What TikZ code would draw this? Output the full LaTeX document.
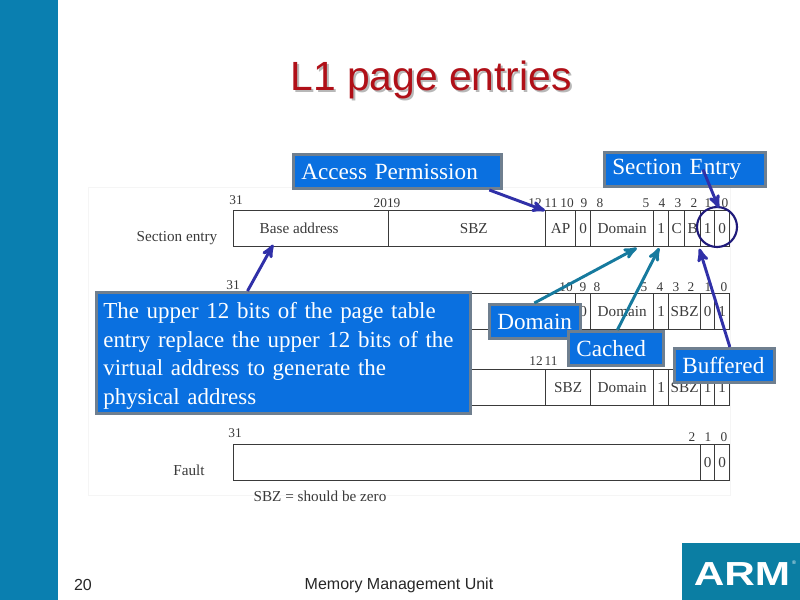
\documentclass[tikz,border=0pt]{standalone}
\usepackage{fontspec}
\setmainfont{Liberation Serif}
\newfontfamily\sansfont{Liberation Sans}
\usetikzlibrary{arrows}

\definecolor{armblue}{HTML}{0A7FB0}
\definecolor{armteal}{HTML}{0B7EA3}
\definecolor{tagblue}{HTML}{0A70E0}
\definecolor{tagedge}{HTML}{6F7F8F}
\definecolor{titlered}{HTML}{B01018}
\definecolor{cellink}{HTML}{3A3A3A}
\definecolor{indigo}{HTML}{3030A8}
\definecolor{ringblue}{HTML}{1F1A7A}
\definecolor{tealline}{HTML}{167A9E}

\begin{document}
\begin{tikzpicture}[x=0.75pt,y=-0.75pt,>=stealth']
  \tikzstyle{cell}=[draw=cellink,line width=1pt,anchor=north west,inner sep=0pt,minimum height=27pt,text=cellink,font=\fontsize{11.4}{11.4}\selectfont]
  \tikzstyle{bitnum}=[inner sep=0pt,text=cellink,font=\fontsize{10}{10}\selectfont]
  \tikzstyle{rowname}=[inner sep=0pt,text=cellink,font=\fontsize{11.4}{12}\selectfont]
  \tikzstyle{tagbox}=[fill=tagblue,draw=tagedge,line width=2pt,anchor=north west,inner xsep=6pt,inner ysep=0pt,align=left,text=white,font=\fontsize{17.4}{21.5}\selectfont]
  \tikzstyle{pointer}=[->,line width=2.2pt]
  \tikzstyle{footer}=[inner sep=0pt,text=black!85,font=\sansfont\fontsize{12}{12}\selectfont]

  \useasboundingbox (0,0) rectangle (800,600);
  \node[fill=armblue,anchor=north west,inner sep=0pt,minimum width=43.5pt,minimum height=450pt] (sidebar) at (0,0) {};
  \node[draw=black!4,line width=1pt,anchor=north west,inner sep=0pt,minimum width=481.5pt,minimum height=231pt] (sheet) at (88,187) {};

  % title with its shadow
  \node[text=black!28,font=\sansfont\fontsize{30.6}{30}\selectfont] (titleshade) at (433,82) {L1 page entries};
  \node[text=titlered,font=\sansfont\fontsize{30.6}{30}\selectfont] (title) at (431,80) {L1 page entries};

  % section entry
  \foreach \nm/\xa/\w/\txt in {secbase/233/155/{Base address\hspace*{18pt}},secsbz/388/157/{\hspace*{10pt}SBZ},secap/545/30/AP,seczero/575/15/0,secdom/590/63/Domain,secone/653/15/1,secc/668/16/C,secb/684/16/B,secbit/700/14/1,secnil/714/15/0}
    \node[cell,minimum width=\w*0.75pt] (\nm) at (\xa,210) {\txt};

  % coarse entry
  \foreach \nm/\xa/\w/\txt in {coarbase/233/342/{},coarzero/575/15/0,coardom/590/63/Domain,coarone/653/15/1,coarsbz/668/32/SBZ,coarbit/700/14/0,coarnil/714/15/1}
    \node[cell,minimum width=\w*0.75pt] (\nm) at (\xa,293) {\txt};

  % fine entry
  \foreach \nm/\xa/\w/\txt in {finebase/233/312/{},finesbz/545/45/SBZ,finedom/590/63/Domain,fineone/653/15/1,finezero/668/32/SBZ,finebit/700/14/1,finenil/714/15/1}
    \node[cell,minimum width=\w*0.75pt] (\nm) at (\xa,369) {\txt};

  % fault entry
  \foreach \nm/\xa/\w/\txt in {faultbase/233/467/{},faultbit/700/14/0,faultnil/714/15/0}
    \node[cell,minimum width=\w*0.75pt] (\nm) at (\xa,444) {\txt};

  % bit numbers
  \foreach \xa/\yb/\txt in {236/200/31,387/203/2019,535/203/12,551/203/11,567/203/10,584/203/9,600/203/8,646/203/5,662/203/4,678/203/3,694/203/2,708/203/1,725/203/0,
      233/285/31,566/287/10,583/287/9,597/287/8,644/287/5,660/287/4,676/287/3,691/287/2,708/287/1,724/287/0,
      536/361/12,551/361/11,
      235/433/31,692/437/2,708/437/1,724/437/0}
    \node[bitnum] at (\xa,\yb) {\txt};

  \node[rowname] (secname) at (177,238) {Section entry};
  \node[rowname] (faultname) at (189,470) {Fault};
  \node[rowname] (sbznote) at (320,496) {SBZ = should be zero};

  % blue tags
  \node[tagbox,text width=144pt,minimum height=25.75pt] (access) at (292,153) {Access Permission};
  \node[tagbox,text width=109pt,minimum height=25.75pt] (section) at (603,151) {Section Entry};
  \node[tagbox,text width=270.25pt,inner xsep=5.25pt,minimum height=91pt,font=\fontsize{17.2}{21.5}\selectfont] (upper) at (95,291) {\rule{0pt}{16.5pt}The upper 12 bits of the page table\\entry replace the upper 12 bits of the\\virtual address to generate the\\physical address};
  \node[tagbox,text width=56.5pt,minimum height=25.75pt] (domain) at (488,303) {Domain};
  \node[tagbox,text width=59.5pt,minimum height=25.75pt] (cached) at (567,330) {Cached};
  \node[tagbox,text width=63.25pt,minimum height=25.75pt] (buffered) at (673,347) {Buffered};

  \node[circle,draw=ringblue,line width=1.6pt,inner sep=0pt,minimum size=30pt] (bitring) at (717,227) {};

  \path[pointer,indigo] ([xshift=-27pt]upper.north) edge ([xshift=-28.5pt,yshift=2pt]secbase.south)
    ([xshift=69pt]access.south) edge ([yshift=-0.5pt]secap.north west)
    ([xshift=13.5pt]section.center) edge ([xshift=-2.5pt,yshift=1.5pt]secnil.north)
    ([xshift=4pt]buffered.north) edge ([xshift=-1.5pt,yshift=-1pt]secb.south east);
  \path[pointer,tealline] ([xshift=-0.5pt]domain.north) edge ([xshift=11pt,yshift=-0.5pt]secdom.south)
    ([xshift=1pt]cached.north) edge ([xshift=-1.5pt,yshift=-0.5pt]secone.south);

  % footer
  \node[footer] (pageno) at (83,585) {20};
  \node[footer] (unitname) at (399,585) {Memory Management Unit};
  \node[fill=armteal,anchor=north west,inner sep=0pt,minimum width=88.5pt,minimum height=42.75pt] (logo) at (682,543) {};
  \node[text=white,xscale=1.27,inner sep=0pt,font=\sansfont\bfseries\fontsize{25}{25}\selectfont] (armword) at (742,574) {ARM};
  \node[text=white,inner sep=0pt,font=\sansfont\fontsize{4}{4}\selectfont] (armmark) at (794,563) {®};
\end{tikzpicture}
\end{document}
